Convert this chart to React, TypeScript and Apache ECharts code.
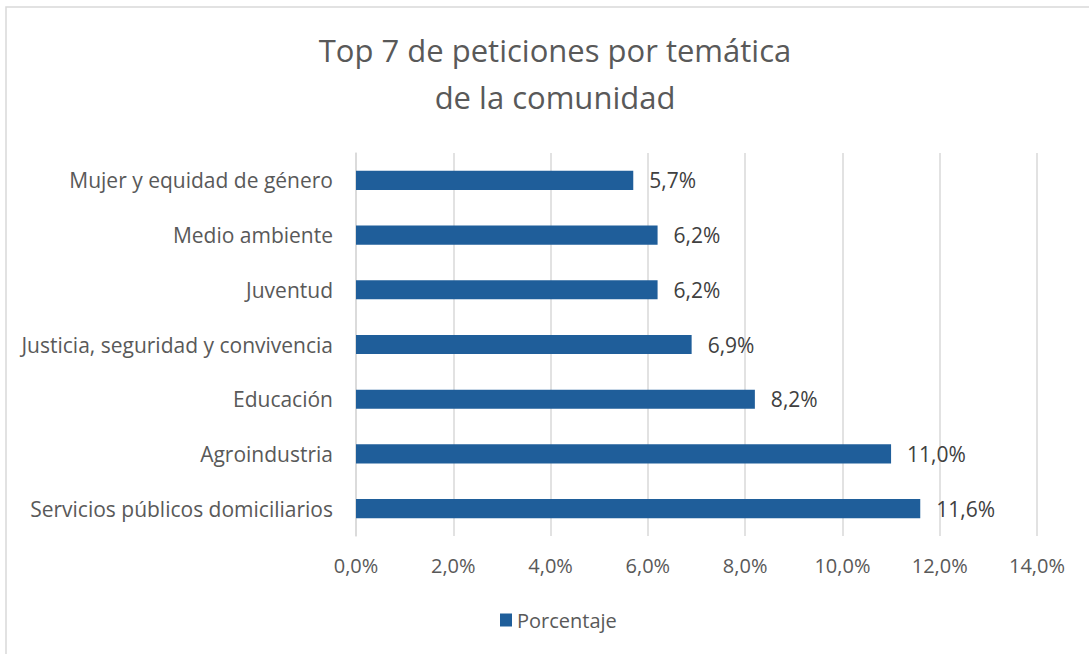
import React, { useEffect, useRef } from "react";
import * as echarts from "echarts";

const categories = [
  "Servicios públicos domiciliarios",
  "Agroindustria",
  "Educación",
  "Justicia, seguridad y convivencia",
  "Juventud",
  "Medio ambiente",
  "Mujer y equidad de género",
];
const values = [11.6, 11.0, 8.2, 6.9, 6.2, 6.2, 5.7];
const seriesName = "Porcentaje";
const titleText = "Top 7 de peticiones por temática\nde la comunidad";

const FONT = "'Open Sans', sans-serif";
const fmt = (v: number) => v.toFixed(1).replace(".", ",") + "%";

export default function App() {
  const ref = useRef<HTMLDivElement>(null);
  useEffect(() => {
    if (!ref.current) return;
    const chart = echarts.init(ref.current, undefined, { renderer: "svg" });
    chart.setOption({
      animation: false,
      backgroundColor: "#ffffff",
      textStyle: { fontFamily: FONT },
      title: {
        text: titleText,
        left: 550,
        top: 21,
        textAlign: "center",
        textStyle: {
          fontFamily: FONT,
          fontSize: 31,
          fontWeight: "normal",
          color: "#595959",
          lineHeight: 47,
        },
      },
      graphic: [
        {
          type: "rect",
          shape: { x: 6, y: 7, width: 1200, height: 800 },
          style: { fill: "none", stroke: "#D9D9D9", lineWidth: 1.5 },
          silent: true,
        },
      ],
      legend: {
        top: 605,
        left: 495,
        data: [seriesName],
        icon: "rect",
        itemWidth: 12,
        itemHeight: 13,
        itemGap: 6,
        textStyle: { fontFamily: FONT, fontSize: 20, color: "#595959" },
      },
      grid: { left: 356, right: 52, top: 153, bottom: 118, containLabel: false },
      xAxis: {
        type: "value",
        min: 0,
        max: 14,
        interval: 2,
        axisLine: { show: false },
        axisTick: { show: false },
        splitLine: { show: true, lineStyle: { color: "#D9D9D9", width: 1.5 } },
        axisLabel: {
          formatter: (v: number) => fmt(v),
          fontFamily: FONT,
          fontSize: 20,
          color: "#595959",
          margin: 19,
        },
      },
      yAxis: {
        type: "category",
        data: categories,
        axisLine: { show: true, lineStyle: { color: "#D9D9D9", width: 1.5 } },
        axisTick: { show: false },
        axisLabel: {
          fontFamily: FONT,
          fontSize: 21,
          color: "#595959",
          margin: 23,
        },
      },
      series: [
        {
          name: seriesName,
          type: "bar",
          data: values,
          barWidth: "35%",
          itemStyle: { color: "#1F5E9A" },
          label: {
            show: true,
            position: "right",
            distance: 16,
            formatter: (p: any) => fmt(p.value),
            fontFamily: FONT,
            fontSize: 21,
            color: "#404040",
          },
        },
      ],
    });
    return () => chart.dispose();
  }, []);
  return (
    <div
      ref={ref}
      style={{ position: "fixed", left: 0, top: 0, width: 1089, height: 654 }}
    />
  );
}
